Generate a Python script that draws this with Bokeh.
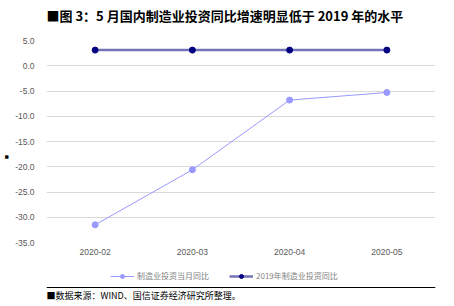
from bokeh.plotting import figure
from bokeh.layouts import column
from bokeh.models import (FactorRange, Range1d, FixedTicker, NumeralTickFormatter,
                          Legend, LegendItem, Label, Span)
from bokeh.embed import file_html
from bokeh.resources import INLINE

months = ["2020-02", "2020-03", "2020-04", "2020-05"]
mfg_monthly = [-31.5, -20.6, -6.8, -5.3]
mfg_2019 = [3.1, 3.1, 3.1, 3.1]
y_ticks = [-35, -30, -25, -20, -15, -10, -5, 0, 5]
name_monthly = "制造业投资当月同比"
name_2019 = "2019年制造业投资同比"
title_text = "■图 3：5 月国内制造业投资同比增速明显低于 2019 年的水平"
source_text = "■数据来源：WIND、国信证券经济研究所整理。"

C1 = "#9999ff"
C2 = "#000080"


def strip(h, y_range):
    f = figure(width=454, height=h, x_range=FactorRange(*months), y_range=y_range,
               output_backend="svg", toolbar_location=None, min_border=0,
               x_axis_location=None, y_axis_location=None)
    f.grid.grid_line_color = None
    f.outline_line_color = None
    return f


def draw_series(f):
    a = f.line(months, mfg_monthly, line_color=C1, line_width=1)
    b = f.scatter(months, mfg_monthly, size=6, fill_color=C1, line_color=C1)
    c = f.line(months, mfg_2019, line_color=C2, line_alpha=0.55, line_width=2.5)
    d = f.scatter(months, mfg_2019, size=6, fill_color=C2, line_color=C2)
    return a, b, c, d


# header
head = strip(28, Range1d(0, 1))
head.add_layout(Label(x=0, y=13, x_units="screen", y_units="screen", text=title_text,
                      text_baseline="middle",
                      text_font="Noto Sans CJK SC", text_font_style="bold",
                      text_font_size="13px", text_color="black"))

# main chart
p = figure(width=454, height=232, x_range=FactorRange(*months), y_range=Range1d(-35, 5),
           output_backend="svg", toolbar_location=None,
           min_border_left=44, min_border_right=19, min_border_top=12, min_border_bottom=18)
p.x_range.range_padding = 0
p.outline_line_color = None
p.xgrid.grid_line_color = None
p.ygrid.grid_line_color = "#d9d9d9"
p.ygrid.grid_line_width = 1
p.yaxis.ticker = FixedTicker(ticks=y_ticks)
p.yaxis.formatter = NumeralTickFormatter(format="0.0")
for ax in (p.xaxis[0], p.yaxis[0]):
    ax.axis_line_color = None
    ax.major_tick_line_color = None
    ax.minor_tick_line_color = None
    ax.major_label_text_font = "Liberation Sans"
    ax.major_label_text_font_size = "8.5px"
    ax.major_label_text_color = "#595959"
p.yaxis.major_label_standoff = 6
p.xaxis.major_label_standoff = 0
p.yaxis.axis_label = "■" + "\u00a0" * 16
p.yaxis.axis_label_text_font_size = "7px"
p.yaxis.axis_label_text_font_style = "normal"
p.yaxis.axis_label_text_color = "black"
p.yaxis.axis_label_standoff = 2
draw_series(p)

# footer: legend (proxy renderers kept out of view), rule and source
foot = strip(46, Range1d(1000, 1001))
r1l, r1m, r2l, r2m = draw_series(foot)
legend = Legend(items=[LegendItem(label=name_monthly, renderers=[r1l, r1m]),
                       LegendItem(label=name_2019, renderers=[r2l, r2m])],
                orientation="horizontal", location=(64, 25),
                label_text_font="Noto Sans CJK SC", label_text_font_size="8px",
                label_text_color="#7f7f7f", glyph_width=24, glyph_height=10,
                label_standoff=3, spacing=20, padding=2, margin=0,
                border_line_color=None, background_fill_alpha=0)
foot.add_layout(legend, "center")
foot.add_layout(Span(location=19, location_units="screen", dimension="width",
                     line_color="black", line_width=1))
foot.add_layout(Label(x=0, y=11, x_units="screen", y_units="screen", text=source_text,
                      text_baseline="middle",
                      text_font="Noto Sans CJK SC", text_font_size="9px",
                      text_color="black"))

layout = column(head, p, foot, spacing=0)
open("out.html", "w").write(file_html(layout, INLINE))
